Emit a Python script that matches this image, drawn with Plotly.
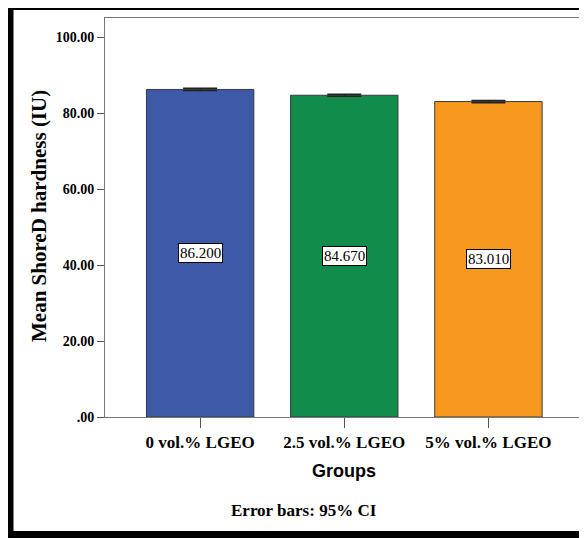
import plotly.graph_objects as go

groups = ["0 vol.% LGEO", "2.5 vol.% LGEO", "5% vol.% LGEO"]
means = [86.200, 84.670, 83.010]
ci_half = [0.30, 0.25, 0.30]
bar_colors = ["#3F59A9", "#118C4A", "#F7991E"]
label_texts = ["86.200", "84.670", "83.010"]
ytick_vals = [0, 20, 40, 60, 80, 100]
ytick_text = [".00", "20.00", "40.00", "60.00", "80.00", "100.00"]

OFF = 8  # page body margin
W, H = 587 - OFF, 538 - OFF
L, R, T, B = 105 - OFF, 2, 18 - OFF, 538 - 417
pw, ph = W - L - R, H - T - B

def px(x):
    return (x - OFF - L) / pw

def py(y):
    return (H - B - (y - OFF)) / ph

serif = "Liberation Serif, Times New Roman, serif"

fig = go.Figure()
fig.add_trace(go.Bar(
    x=list(range(len(groups))), y=means,
    marker=dict(color=bar_colors, line=dict(color="#3a3a3a", width=1)),
    width=0.745,
    error_y=dict(type="data", array=ci_half, visible=True, color="#222222", thickness=1.5, width=17),
    showlegend=False, hoverinfo="skip",
))

annotations = []
for i, (m, t) in enumerate(zip(means, label_texts)):
    annotations.append(dict(
        x=i, y=m / 2, xref="x", yref="y", text=t, showarrow=False,
        font=dict(family=serif, size=15, color="black"),
        bgcolor="white", bordercolor="black", borderwidth=1, borderpad=1,
    ))

annotations += [
    dict(x=px(39), y=py(216), xref="paper", yref="paper", text="<b>Mean ShoreD hardness (IU)</b>",
         textangle=-90, showarrow=False, xanchor="center", yanchor="middle",
         font=dict(family=serif, size=21, color="black")),
    dict(x=px(344), y=py(471), xref="paper", yref="paper", text="<b>Groups</b>",
         showarrow=False, xanchor="center", yanchor="middle",
         font=dict(family="Liberation Sans, Arial, sans-serif", size=18, color="black")),
    dict(x=px(304), y=py(510), xref="paper", yref="paper", text="<b>Error bars: 95% CI</b>",
         showarrow=False, xanchor="center", yanchor="middle",
         font=dict(family=serif, size=17, color="black")),
]

fig.update_layout(
    width=W, height=H,
    margin=dict(l=L, r=R, t=T, b=B, pad=0),
    paper_bgcolor="white", plot_bgcolor="white",
    annotations=annotations,
    shapes=[dict(type="rect", xref="paper", yref="paper",
                 x0=px(10), x1=px(640), y0=py(534.5), y1=py(6.5),
                 line=dict(color="black", width=7), layer="above")],
    xaxis=dict(
        range=[-0.66, 2.67], tickvals=list(range(len(groups))), ticktext=["<b>%s</b>" % g for g in groups],
        ticks="outside", ticklen=10, tickcolor="#555555", tickwidth=1,
        showline=True, linecolor="#777777", linewidth=1, mirror=True,
        showgrid=False, zeroline=False,
        tickfont=dict(family=serif, size=17, color="black"),
    ),
    yaxis=dict(
        range=[0, 105], tickvals=ytick_vals, ticktext=["<b>%s</b>" % t for t in ytick_text],
        ticks="outside", ticklen=7, tickcolor="#555555", tickwidth=1,
        showline=True, linecolor="#777777", linewidth=1, mirror=True,
        showgrid=False, zeroline=False,
        tickfont=dict(family=serif, size=14, color="black"),
    ),
)

fig.write_html("out.html")
